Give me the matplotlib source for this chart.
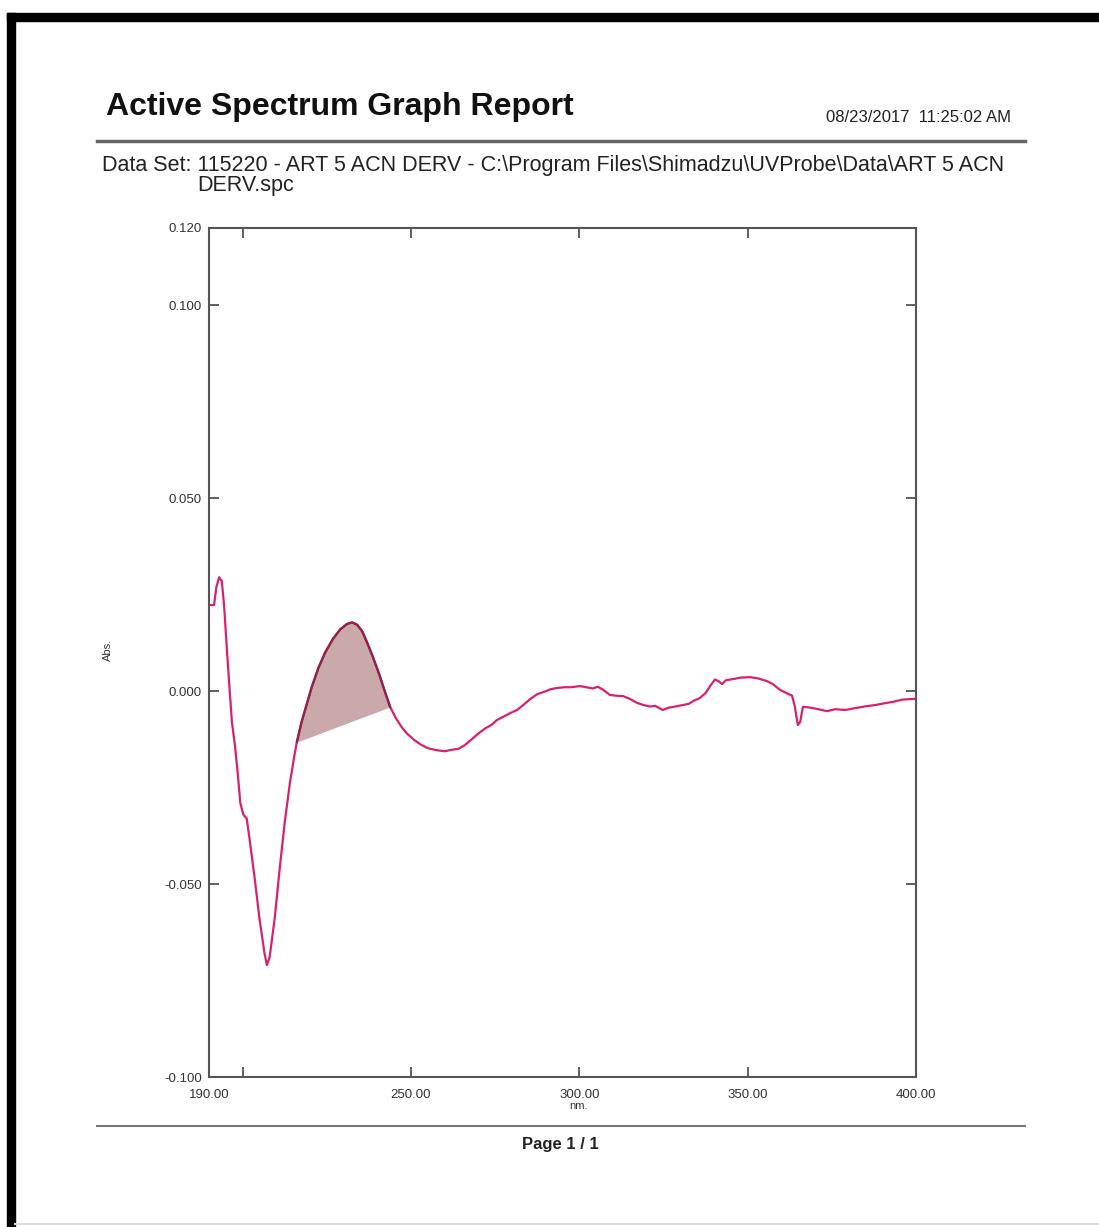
import numpy as np
import matplotlib
matplotlib.use("Agg")
import matplotlib.pyplot as plt
from matplotlib.patches import Rectangle
from matplotlib.lines import Line2D

plt.rcParams["font.family"] = ["Liberation Sans", "DejaVu Sans"]
plt.rcParams["axes.unicode_minus"] = False

# first-derivative spectrum (nm, Abs.)
wavelength = [
    190.5, 191.5, 192.2, 193.0, 193.8, 194.5, 195.3, 196.0, 196.8, 197.7,
    198.5, 199.3, 200.2, 201.2, 202.0, 203.5, 205.0, 206.5, 207.2, 208.0,
    209.5, 211.0, 212.5, 214.0, 215.3, 216.1, 217.5, 219.0, 220.5, 222.5,
    224.5, 226.8, 229.0, 231.0, 232.5, 234.0, 235.5, 237.0, 238.7, 240.5,
    242.2, 243.8, 245.5, 247.2, 248.8, 251.0, 253.0, 255.0, 257.5, 260.0,
    262.0, 264.0, 266.0, 268.4, 270.0, 272.0, 274.0, 275.5, 277.5, 279.5,
    281.5, 283.5, 285.5, 287.5, 289.5, 291.5, 293.4, 295.5, 297.5, 300.2,
    302.0, 304.0, 305.5, 307.0, 309.1, 311.0, 313.0, 315.0, 317.0, 319.0,
    321.0, 322.5, 324.8, 326.5, 328.5, 330.8, 332.5, 334.0, 335.8, 337.5,
    339.0, 340.3, 341.5, 342.4, 343.5, 345.6, 348.0, 350.7, 353.0, 355.7,
    357.5, 359.6, 361.5, 363.2, 364.0, 364.9, 365.6, 366.4, 368.0, 370.5,
    373.5, 376.0, 379.0, 382.0, 385.4, 388.0, 391.0, 393.1, 396.0, 399.7,
]
absorbance = [
    0.0223, 0.0223, 0.0270, 0.0295, 0.0285, 0.0220, 0.0110, 0.0020, -0.0080, -0.0140,
    -0.0210, -0.0290, -0.0320, -0.0330, -0.0380, -0.0480, -0.0590, -0.0680, -0.0710, -0.0690,
    -0.0590, -0.0460, -0.0340, -0.0240, -0.0170, -0.0132, -0.0080, -0.0035, 0.0010, 0.0060,
    0.0100, 0.0135, 0.0160, 0.0174, 0.0178, 0.0172, 0.0155, 0.0125, 0.0088, 0.0045,
    0.0000, -0.0041, -0.0070, -0.0093, -0.0110, -0.0127, -0.0139, -0.0148, -0.0153, -0.0156,
    -0.0152, -0.0150, -0.0140, -0.0122, -0.0110, -0.0097, -0.0087, -0.0075, -0.0066, -0.0057,
    -0.0049, -0.0035, -0.0020, -0.0008, -0.0002, 0.0005, 0.0008, 0.0010, 0.0010, 0.0013,
    0.0010, 0.0007, 0.0011, 0.0004, -0.0010, -0.0012, -0.0013, -0.0020, -0.0030, -0.0036,
    -0.0040, -0.0038, -0.0049, -0.0043, -0.0040, -0.0036, -0.0033, -0.0025, -0.0018, -0.0005,
    0.0015, 0.0030, 0.0025, 0.0018, 0.0028, 0.0031, 0.0035, 0.0036, 0.0033, 0.0026,
    0.0018, 0.0003, -0.0005, -0.0012, -0.0040, -0.0088, -0.0080, -0.0041, -0.0042, -0.0046,
    -0.0052, -0.0047, -0.0049, -0.0044, -0.0039, -0.0036, -0.0031, -0.0028, -0.0022, -0.0020,
]

# integrated peak window
peak_start, peak_end = 216.1, 243.8

x_labels = [190, 250, 300, 350, 400]
y_ticks = [-0.100, -0.050, 0.000, 0.050, 0.100, 0.120]

W, H = 1099, 1227
fig = plt.figure(figsize=(W / 100, H / 100), dpi=100)


def fx(px):
    return px / W


def fy(py):
    return 1 - py / H


# page frame
fig.patches.append(Rectangle((fx(7), fy(1227)), fx(8), fy(13) - fy(1227),
                             transform=fig.transFigure, color="black", zorder=0))
fig.patches.append(Rectangle((fx(7), fy(21)), 1 - fx(7), fy(13) - fy(21),
                             transform=fig.transFigure, color="black", zorder=0))
fig.lines.append(Line2D([fx(15), 1], [fy(1224), fy(1224)], transform=fig.transFigure,
                        color="#dddddd", lw=1.5))

# header
fig.text(fx(106), fy(107), "Active Spectrum Graph Report", fontsize=23,
         fontweight="bold", va="center", ha="left", color="#111111")
fig.text(fx(1011), fy(117), "08/23/2017  11:25:02 AM", fontsize=12,
         va="center", ha="right", color="#222222")
fig.lines.append(Line2D([fx(97), fx(1025)], [fy(141), fy(141)], transform=fig.transFigure,
                        color="#666666", lw=2.5))
fig.text(fx(102), fy(166),
         "Data Set: 115220 - ART 5 ACN DERV - C:\\Program Files\\Shimadzu\\UVProbe\\Data\\ART 5 ACN",
         fontsize=15.5, va="center", ha="left", color="#222222")
fig.text(fx(197), fy(186), "DERV.spc", fontsize=15.5, va="center", ha="left", color="#222222")

# footer
fig.lines.append(Line2D([fx(97), fx(1025)], [fy(1126), fy(1126)], transform=fig.transFigure,
                        color="#777777", lw=1.5))
fig.text(fx(560), fy(1145), "Page 1 / 1", fontsize=12, fontweight="bold",
         va="center", ha="center", color="#222222")

# spectrum axes
ax = fig.add_axes([fx(209), fy(1077), fx(916) - fx(209), fy(228) - fy(1077)])
wl = np.array(wavelength)
ab = np.array(absorbance)

mask = (wl >= peak_start) & (wl <= peak_end)
base = np.interp(wl[mask], [peak_start, peak_end],
                 [np.interp(peak_start, wl, ab), np.interp(peak_end, wl, ab)])
ax.fill_between(wl[mask], base, ab[mask], color="#c9a9a9", lw=0)
ax.plot(wl, ab, color="#d8206e", lw=1.6)
ax.plot(wl[mask], ab[mask], color="#8a2448", lw=1.6)

ax.set_xlim(190, 400)
ax.set_ylim(-0.100, 0.120)
ax.set_xticks(x_labels)
ax.set_xticklabels([f"{v:.2f}" for v in x_labels])
ax.set_xticks([200], minor=True)
ax.set_yticks(y_ticks)
ax.set_yticklabels([f"{v:.3f}" for v in y_ticks])
ax.tick_params(which="both", direction="in", length=7, width=1.2, color="#444444",
               top=True, right=True, labelsize=9.5, labelcolor="#333333")
ax.tick_params(axis="x", pad=9)
ax.tick_params(axis="y", pad=5)
for s in ax.spines.values():
    s.set_color("#555555")
    s.set_linewidth(1.5)

fig.text(fx(579), fy(1106), "nm.", fontsize=8, ha="center", va="center", color="#333333")
fig.text(fx(108), fy(650), "Abs.", fontsize=8, rotation=90, ha="center", va="center",
         color="#333333")

fig.savefig("out.png", dpi=100)
